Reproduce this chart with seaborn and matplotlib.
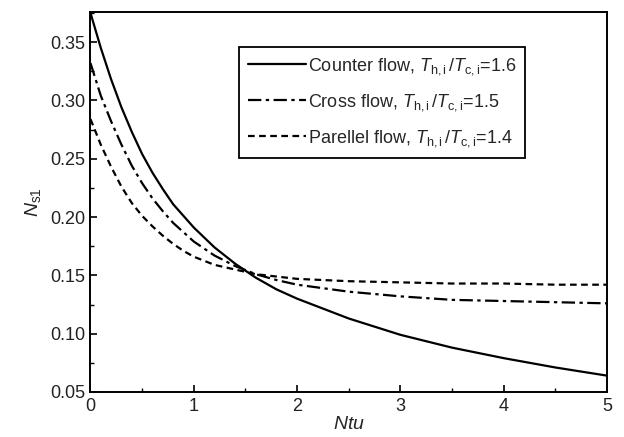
import numpy as np
import pandas as pd
import seaborn as sns
import matplotlib
matplotlib.use("Agg")
import matplotlib.pyplot as plt
from matplotlib.ticker import MultipleLocator, FormatStrFormatter

# Values
ntu = [0.0, 0.1, 0.2, 0.3, 0.4, 0.5, 0.6, 0.7, 0.8, 0.9, 1.0,
       1.2, 1.4, 1.6, 1.8, 2.0, 2.5, 3.0, 3.5, 4.0, 4.5, 5.0]
counter_flow = [0.375, 0.345, 0.318, 0.294, 0.273, 0.254, 0.238, 0.224, 0.211, 0.201, 0.191,
                0.174, 0.160, 0.148, 0.138, 0.130, 0.113, 0.099, 0.088, 0.079, 0.071, 0.064]
cross_flow = [0.332, 0.304, 0.282, 0.262, 0.244, 0.229, 0.216, 0.205, 0.195, 0.187, 0.179,
              0.167, 0.158, 0.151, 0.146, 0.142, 0.136, 0.132, 0.129, 0.128, 0.127, 0.126]
parallel_flow = [0.284, 0.262, 0.243, 0.226, 0.212, 0.201, 0.192, 0.184, 0.177, 0.171, 0.166,
                 0.159, 0.155, 0.151, 0.149, 0.147, 0.145, 0.144, 0.143, 0.143, 0.142, 0.142]

labels = [
    r"Counter flow, $T_{\mathrm{h,i}}\,/T_{\mathrm{c,i}}$=1.6",
    r"Cross flow, $T_{\mathrm{h,i}}\,/T_{\mathrm{c,i}}$=1.5",
    r"Parellel flow, $T_{\mathrm{h,i}}\,/T_{\mathrm{c,i}}$=1.4",
]

sns.set_style("ticks")
plt.rcParams["font.family"] = ["Liberation Sans", "DejaVu Sans"]
plt.rcParams["mathtext.fontset"] = "custom"
plt.rcParams["mathtext.rm"] = "Liberation Sans"
plt.rcParams["mathtext.it"] = "Liberation Sans:italic"

fig = plt.figure(figsize=(6.24, 4.37), dpi=100)
ax = fig.add_axes([0.145, 0.103, 0.828, 0.870])

dashes = [None, (6, 2, 1.5, 2), (3, 2)]
for vals, lab, dash in zip([counter_flow, cross_flow, parallel_flow], labels, dashes):
    sns.lineplot(x=ntu, y=vals, ax=ax, color="black", lw=1.6, label=lab)
    if dash is not None:
        ax.lines[-1].set_dashes(dash)

ax.set_xlim(0, 5)
ax.set_ylim(0.05, 0.376)
ax.xaxis.set_major_locator(MultipleLocator(1))
ax.xaxis.set_minor_locator(MultipleLocator(0.5))
ax.yaxis.set_major_locator(MultipleLocator(0.05))
ax.yaxis.set_minor_locator(MultipleLocator(0.025))
ax.yaxis.set_major_formatter(FormatStrFormatter("%.2f"))
ax.tick_params(which="both", direction="in", top=False, right=False, labelsize=13,
               color="black", labelcolor="#222222")
ax.tick_params(which="major", length=5, width=1.2, pad=4)
ax.tick_params(which="minor", length=3, width=1.0)
for sp in ax.spines.values():
    sp.set_linewidth(1.4)
    sp.set_color("black")

ax.set_xlabel(r"$Ntu$", fontsize=14, labelpad=1)
ax.set_ylabel(r"$N_{\mathrm{s1}}$", fontsize=14, labelpad=5)

leg = ax.legend(loc="upper left", bbox_to_anchor=(0.288, 0.908), frameon=True, fancybox=False,
                edgecolor="black", fontsize=13, handlelength=3.2, handletextpad=0.1,
                borderpad=0.5, labelspacing=0.85, borderaxespad=0, framealpha=1)
leg.get_frame().set_linewidth(1.3)

fig.savefig("out.png", dpi=100)
